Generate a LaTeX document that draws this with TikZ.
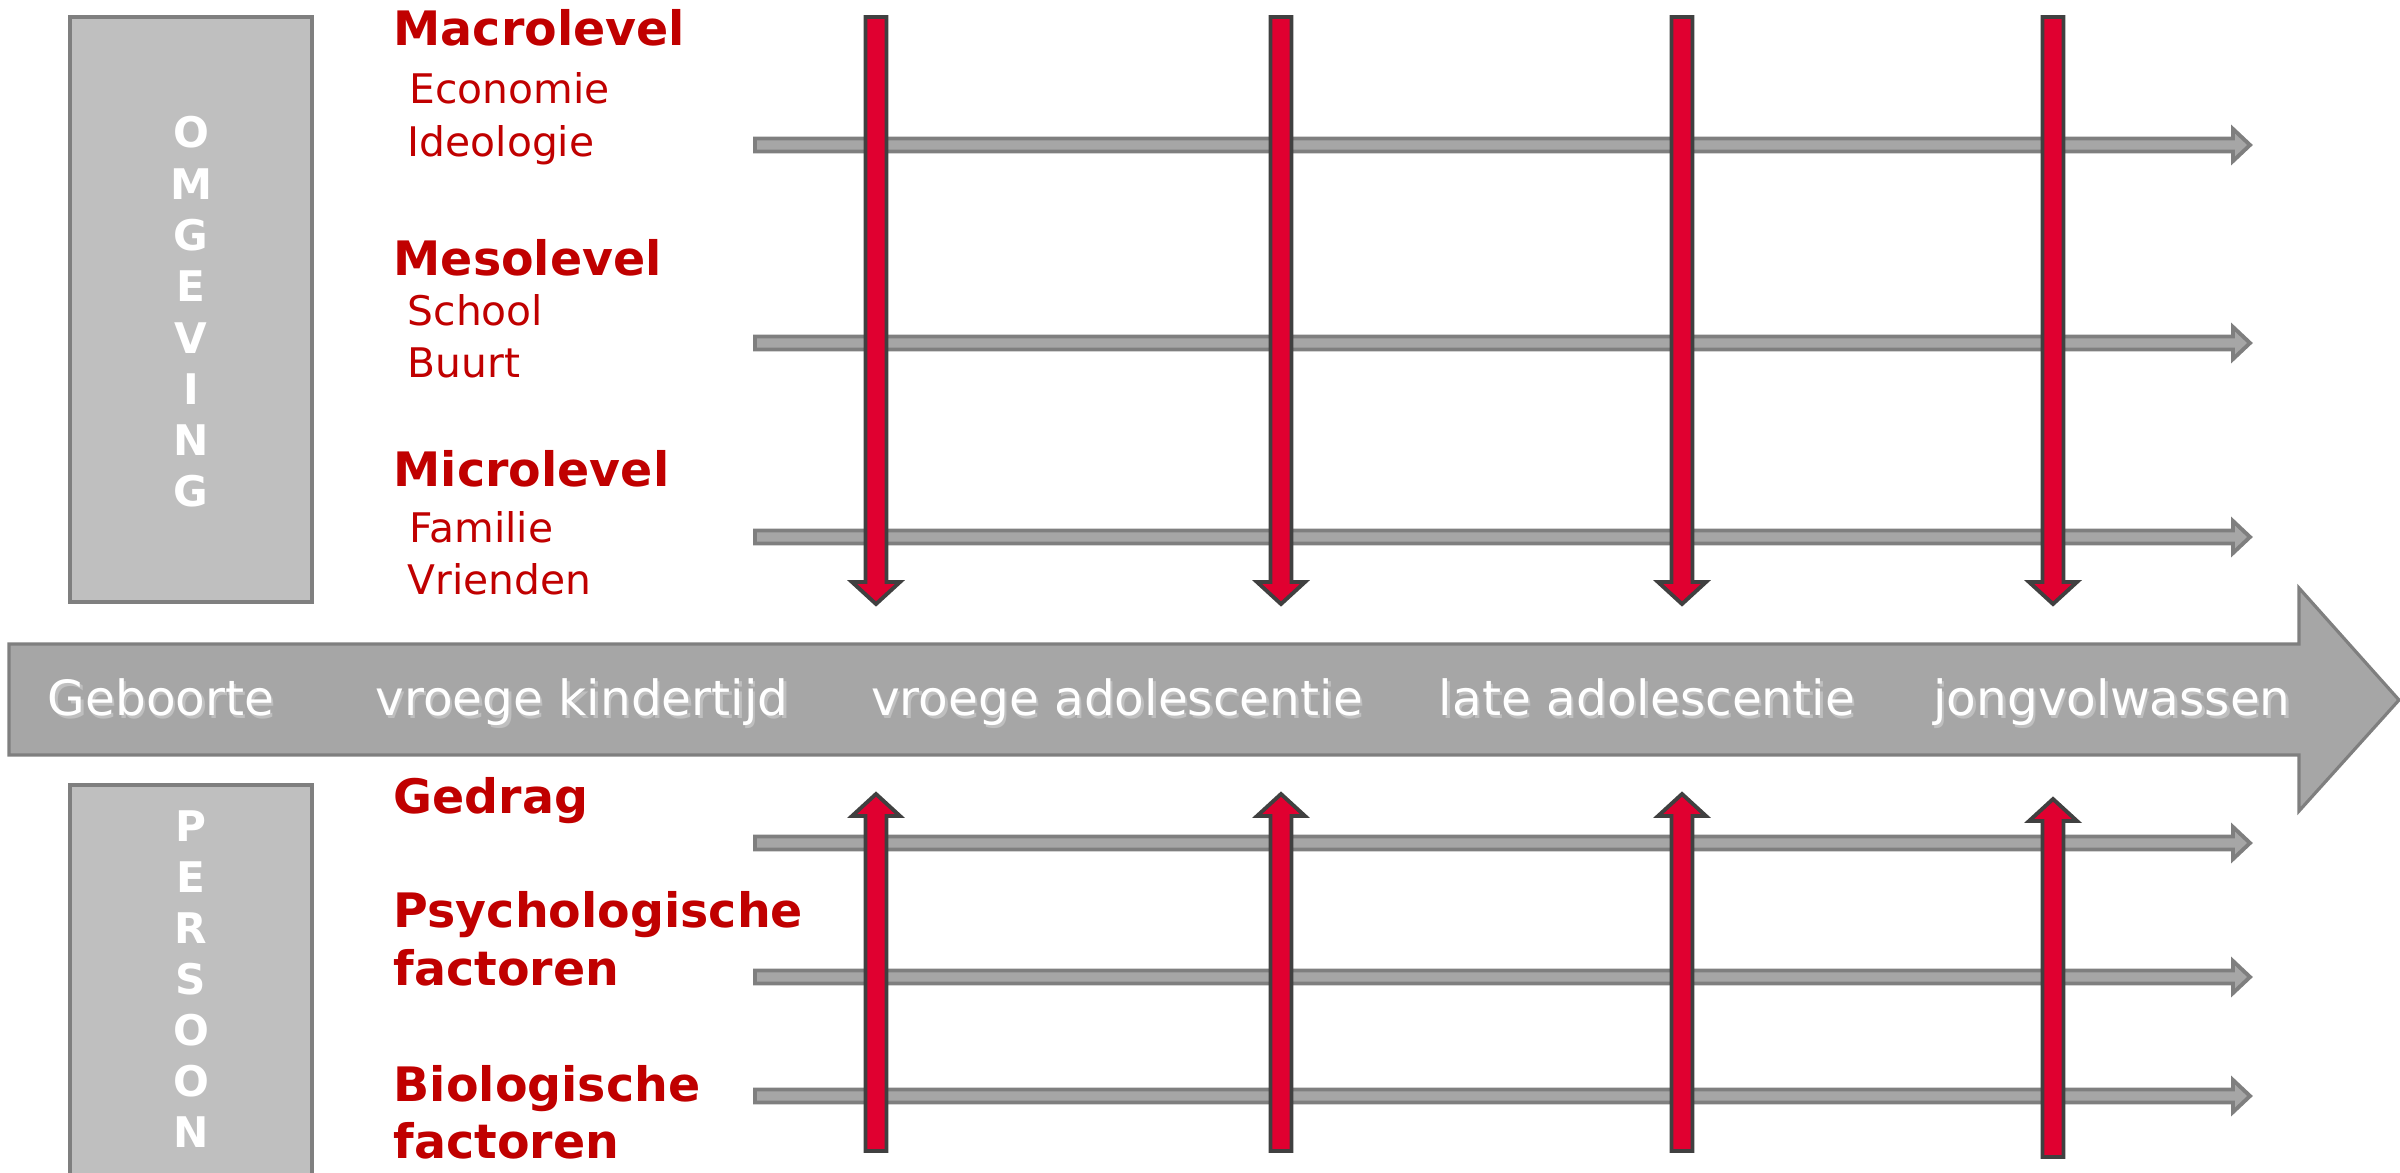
\documentclass[tikz,border=0pt]{standalone}
\usepackage{fontspec}
\setmainfont{DejaVu Sans}
\usetikzlibrary{positioning}

\definecolor{levelred}{RGB}{192,0,0}
\definecolor{arrowred}{RGB}{224,0,48}
\definecolor{redline}{RGB}{64,64,64}
\definecolor{boxfill}{RGB}{191,191,191}
\definecolor{barfill}{RGB}{166,166,166}
\definecolor{barline}{RGB}{127,127,127}

% white text with a soft drop shadow
\newcommand{\shadowed}[1]{\makebox[0pt][l]{\hspace{0.7pt}\raisebox{-0.9pt}{\textcolor{black!25}{#1}}}#1}

\tikzset{
  level/.style={anchor=base west, inner sep=0pt, text=levelred,
    font=\bfseries\fontsize{13.5}{16}\selectfont},
  factor/.style={anchor=base west, inner sep=0pt, text=levelred,
    font=\fontsize{11.6}{14}\selectfont},
  stage/.style={anchor=base, inner sep=0pt, text=white,
    font=\fontsize{13.8}{17}\selectfont},
  letter/.style={inner sep=0pt, text=white, font=\bfseries\fontsize{12}{14}\selectfont},
  sidebox/.style={draw=barline, fill=boxfill, line width=0.9pt},
  timebar/.style={draw=barline, fill=barfill, line width=0.9pt},
  levelbar/.style={draw=barline, fill=barfill, line width=1.1pt},
  influence/.style={draw=redline, fill=arrowred, line width=1.1pt},
}

\begin{document}
\begin{tikzpicture}[x=0.01cm, y=-0.01cm]
\useasboundingbox (0,0) rectangle (2400,1172);
\clip (0,0) rectangle (2400,1172);

% side boxes
\draw[sidebox] (70,17) rectangle (312,602);
\draw[sidebox] (70,785) rectangle (312,1200);
\foreach \c [count=\i from 0] in {O,M,G,E,V,I,N,G}
  \node[letter] (omg-\i) at (191,{134+51.3*\i}) {\shadowed{\c}};
\foreach \c [count=\i from 0] in {P,E,R,S,O,O,N}
  \node[letter] (per-\i) at (191,{828+51*\i}) {\shadowed{\c}};

% level texts
\node[level]  (macro)  at (393,45)   {Macrolevel};
\node[factor] (econ)   at (409,103)  {Economie};
\node[factor] (ideo)   at (407,156)  {Ideologie};
\node[level]  (meso)   at (393,275)  {Mesolevel};
\node[factor] (school) at (407,325)  {School};
\node[factor] (buurt)  at (407,377)  {Buurt};
\node[level]  (micro)  at (393,486)  {Microlevel};
\node[factor] (fam)    at (409,542)  {Familie};
\node[factor] (vrien)  at (407,594)  {Vrienden};
\node[level]  (gedrag) at (393,813)  {Gedrag};
\node[level]  (psy)    at (393,927)  {Psychologische};
\node[level]  (psyf)   at (393,985)  {factoren};
\node[level]  (bio)    at (393,1101) {Biologische};
\node[level]  (biof)   at (393,1158) {factoren};

% thin level arrows
\foreach \y in {145,343,537,843,977,1096}
  \draw[levelbar] (755,\y) ++(0,-6.5) -- ++(1478,0) -- ++(0,-9.5) -- ++(17,16)
    -- ++(-17,16) -- ++(0,-9.5) -- ++(-1478,0) -- cycle;

% time line
\draw[timebar] (9,644) -- (2299,644) -- (2299,588) -- (2399,700) -- (2299,811)
  -- (2299,755) -- (9,755) -- cycle;
\node[stage] (geboorte)   at (161,715)  {\shadowed{Geboorte}};
\node[stage] (kindertijd) at (582,715)  {\shadowed{vroege kindertijd}};
\node[stage] (vroegadol)  at (1117,715) {\shadowed{vroege adolescentie}};
\node[stage] (lateadol)   at (1647,715) {\shadowed{late adolescentie}};
\node[stage] (jongvolw)   at (2112,715) {\shadowed{jongvolwassen}};

% red arrows down from the surroundings
\foreach \x in {876,1281,1682,2053}
  \draw[influence] (\x,17) ++(-10.5,0) -- ++(21,0) -- ++(0,565) -- ++(13.5,0)
    -- ++(-24,22) -- ++(-24,-22) -- ++(13.5,0) -- cycle;

% red arrows up from the person
\foreach \x/\t/\b in {876/794/1151,1281/794/1151,1682/794/1151,2053/799/1157}
  \draw[influence] (\x,\b) ++(-10.5,0) -- ++(21,0) -- ++(0,{\t+22-\b}) -- ++(13.5,0)
    -- ++(-24,-22) -- ++(-24,22) -- ++(13.5,0) -- cycle;

\end{tikzpicture}
\end{document}
